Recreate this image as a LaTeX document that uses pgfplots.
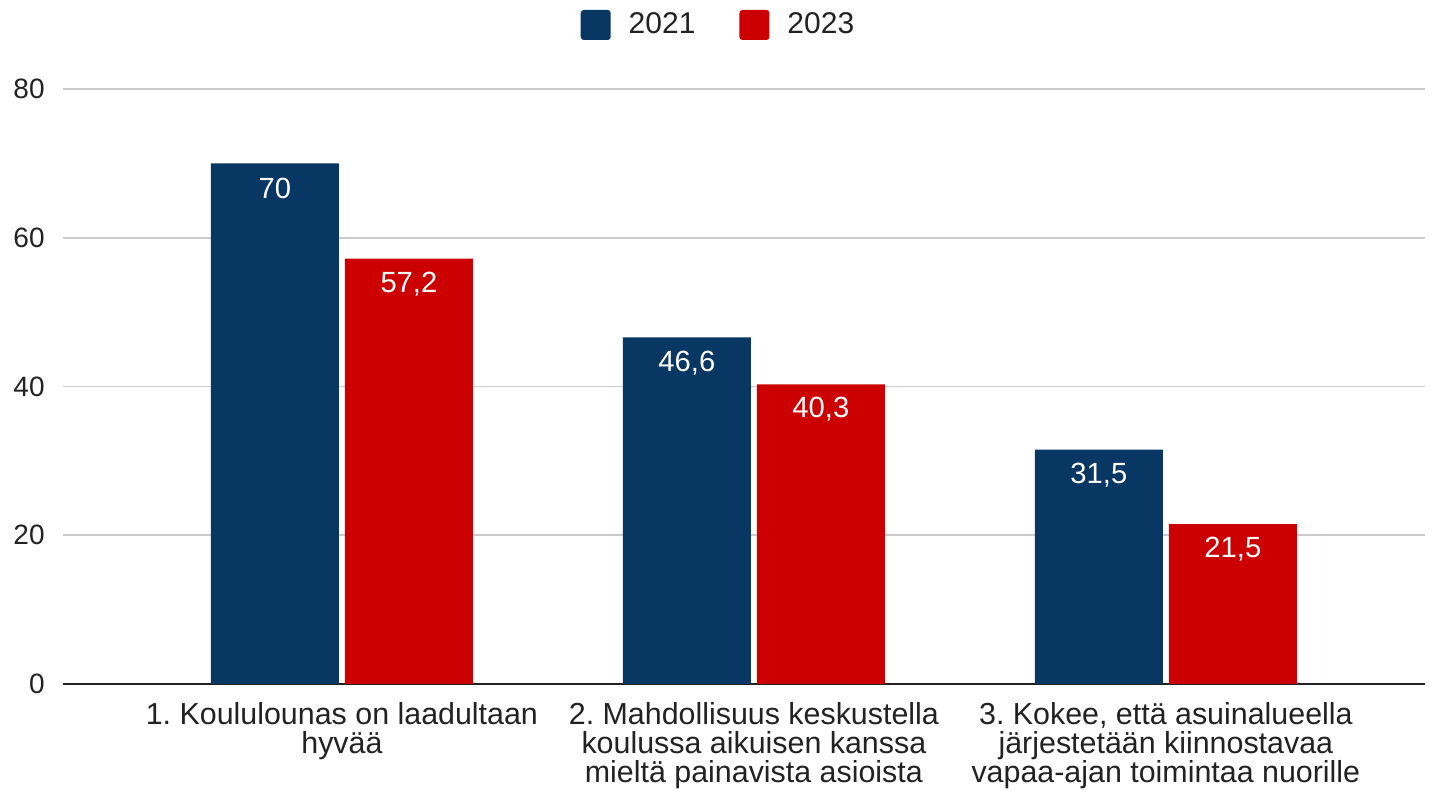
\documentclass[border=0pt]{standalone}
\usepackage{fontspec}
\setmainfont{Liberation Sans}
\usepackage{pgfplots}
\pgfplotsset{compat=1.18}
\frenchspacing
\definecolor{cblue}{HTML}{083763}
\definecolor{cred}{HTML}{CC0000}
\definecolor{ctext}{HTML}{222222}
\definecolor{cgrid}{HTML}{CCCCCC}
\pgfplotsset{mylegend/.style={legend image code/.code={\fill[##1,draw=none,rounded corners=1.5pt] (0pt,-7.5pt) rectangle (15pt,7.5pt);}}}
\begin{document}
\frenchspacing
\begin{tikzpicture}
\useasboundingbox (0,0) rectangle (719.5pt,395.5pt);
\begin{axis}[
  at={(31.5pt,53.5pt)}, anchor=south west,
  scale only axis, width=681pt, height=297.5pt,
  xmin=-0.677, xmax=2.629, ymin=0, ymax=80,
  axis line style={draw=none},
  ybar, 
  ytick={20,40,60,80},
  extra y ticks={0},
  extra y tick style={grid style={color=ctext, line width=1pt}},
  ymajorgrids, grid style={cgrid, line width=0.9pt},
  major tick length=0pt,
  /pgf/number format/assume math mode=true,
  tick label style={font=\fontsize{14}{14}\selectfont, text=ctext},
  yticklabel style={inner sep=0pt, xshift=-9pt},
  xtick={0,1,2},
  xticklabels={{1. Koululounas on laadultaan\\hyvää},
               {2. Mahdollisuus keskustella\\koulussa aikuisen kanssa\\mieltä painavista asioista},
               {3. Kokee, että asuinalueella\\järjestetään kiinnostavaa\\vapaa-ajan toimintaa nuorille}},
  xticklabel style={align=center, inner sep=0pt, anchor=north, yshift=-9pt, font=\fontsize{15.2}{14.5}\selectfont\frenchspacing},
  bar width=64pt,
  nodes near coords={\pgfmathprintnumber[fixed,use comma,precision=1]{\pgfplotspointmeta}},
  every node near coord/.append style={anchor=center, yshift=-12.7pt, text=white, font=\fontsize{14.6}{14}\selectfont, /pgf/number format/assume math mode=true},
  legend style={at={(0.482,1.1076)}, anchor=center, draw=none, fill=none,
    legend columns=2, font=\fontsize{15}{15}\selectfont, text=ctext,
    /tikz/every odd column/.append style={column sep=7pt},
    /tikz/every even column/.append style={column sep=20pt}},
]
\addplot[fill=cblue, draw=none, bar shift=-33.5pt, mylegend] coordinates {(0,70) (1,46.6) (2,31.5)};
\addplot[fill=cred, draw=none, bar shift=33.5pt, mylegend] coordinates {(0,57.2) (1,40.3) (2,21.5)};
\legend{2021,2023}
\end{axis}
\end{tikzpicture}
\end{document}
